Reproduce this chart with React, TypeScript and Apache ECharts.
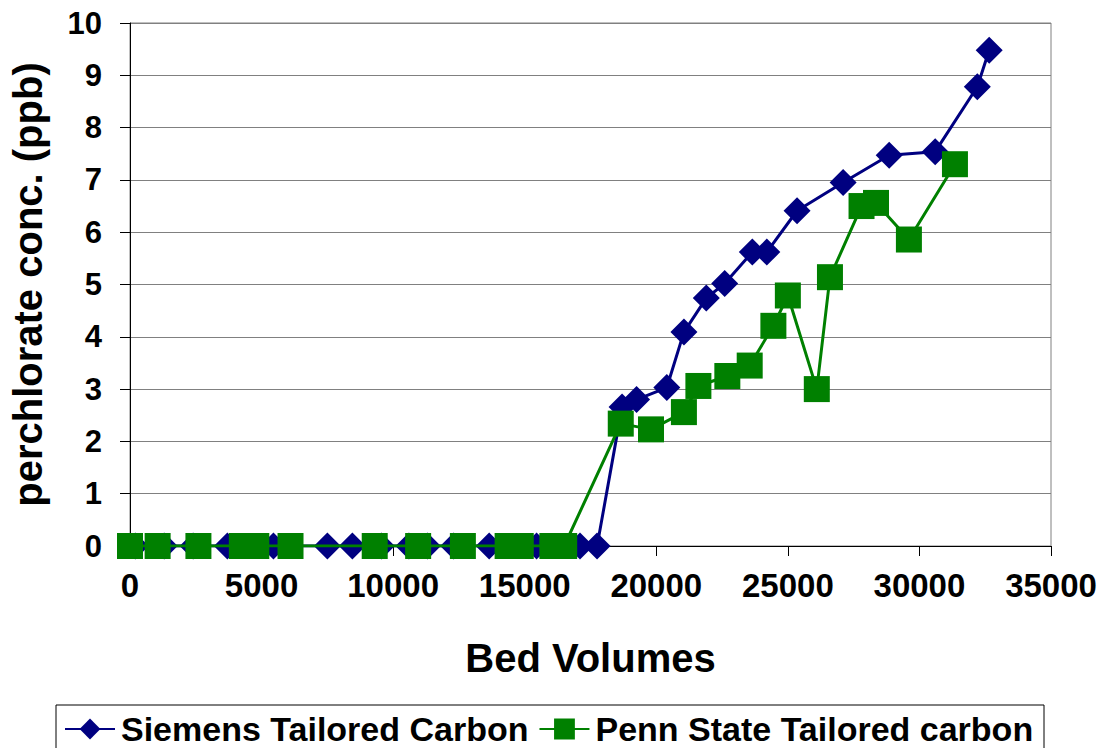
import React, { useEffect, useRef } from "react";
import * as echarts from "echarts";

const siemensBV = [200, 1300, 2400, 3700, 5450, 7500, 8450, 9550, 10600, 11300, 12300, 13650, 15450, 17100, 17750,
  18700, 19250, 20400, 21050, 21900, 22600, 23650, 24200, 25350, 27100, 28850, 30600, 32200, 32650];
const siemensConc = [0, 0, 0, 0, 0, 0, 0, 0, 0, 0, 0, 0, 0, 0, 0,
  2.66, 2.8, 3.03, 4.09, 4.74, 5.02, 5.62, 5.62, 6.41, 6.95, 7.47, 7.54, 8.78, 9.48];

const pennBV = [0, 1050, 2600, 4250, 4800, 6100, 9300, 10950, 12650, 14350, 14850, 16050, 16500,
  18650, 19800, 21050, 21600, 22700, 23550, 24450, 25000, 26100, 26600, 27800, 28350, 29600, 31350];
const pennConc = [0, 0, 0, 0, 0, 0, 0, 0, 0, 0, 0, 0, 0,
  2.34, 2.23, 2.56, 3.06, 3.25, 3.45, 4.21, 4.79, 3.0, 5.14, 6.5, 6.56, 5.86, 7.3];

const seriesNames = ["Siemens Tailored Carbon", "Penn State Tailored carbon"];
const xTitle = "Bed Volumes";
const yTitle = "perchlorate conc. (ppb)";

const FONT = "'Liberation Sans', Arial, sans-serif";

export default function App() {
  const ref = useRef<HTMLDivElement>(null);
  useEffect(() => {
    if (!ref.current) return;
    const chart = echarts.init(ref.current, null, { renderer: "svg" });
    const siemens = siemensBV.map((x, i) => [x, siemensConc[i]]);
    const penn = pennBV.map((x, i) => [x, pennConc[i]]);
    chart.setOption({
      animation: false,
      backgroundColor: "#ffffff",
      textStyle: { fontFamily: FONT },
      grid: {
        left: 129,
        right: 51,
        top: 23,
        bottom: 202,
        show: true,
        borderColor: "#808080",
        borderWidth: 1,
        backgroundColor: "transparent",
      },
      xAxis: {
        type: "value",
        min: 0,
        max: 35000,
        interval: 5000,
        name: xTitle,
        nameLocation: "middle",
        nameGap: 92,
        nameTextStyle: { fontSize: 40, fontWeight: "bold", color: "#000", fontFamily: FONT },
        axisLine: { show: true, onZero: false, lineStyle: { color: "#000", width: 1 } },
        axisTick: { show: true, length: 10, lineStyle: { color: "#000" } },
        axisLabel: {
          fontSize: 33,
          fontWeight: "bold",
          color: "#000",
          margin: 23,
          fontFamily: FONT,
          formatter: (v: number) => String(v),
        },
        splitLine: { show: false },
      },
      yAxis: {
        type: "value",
        min: 0,
        max: 10,
        interval: 1,
        name: yTitle,
        nameLocation: "middle",
        nameGap: 82,
        nameTextStyle: { fontSize: 40, fontWeight: "bold", color: "#000", fontFamily: FONT },
        axisLine: { show: true, lineStyle: { color: "#000", width: 1 } },
        axisTick: { show: true, length: 10, lineStyle: { color: "#000" } },
        axisLabel: { fontSize: 31, fontWeight: "bold", color: "#000", margin: 28, fontFamily: FONT },
        splitLine: { show: true, lineStyle: { color: "#808080", width: 1 } },
      },
      legend: {
        left: 59,
        top: 707,
        itemWidth: 50,
        itemHeight: 26,
        itemGap: 10,
        textStyle: { fontSize: 34, fontWeight: "bold", color: "#000", fontFamily: FONT, padding: [0, 0, 0, 1] },
        data: seriesNames,
      },
      graphic: [
        {
          type: "rect",
          shape: { x: 56, y: 705, width: 988, height: 70 },
          style: { fill: "none", stroke: "#000", lineWidth: 1 },
          silent: true,
        },
      ],
      series: [
        {
          name: seriesNames[0],
          type: "line",
          data: siemens,
          symbol: "diamond",
          symbolSize: 27,
          lineStyle: { color: "#000080", width: 3 },
          itemStyle: { color: "#000080" },
          z: 2,
        },
        {
          name: seriesNames[1],
          type: "line",
          data: penn,
          symbol: "rect",
          symbolSize: 26,
          lineStyle: { color: "#008000", width: 3 },
          itemStyle: { color: "#008000" },
          z: 3,
        },
      ],
    });
    return () => chart.dispose();
  }, []);
  return <div ref={ref} style={{ position: "fixed", left: 0, top: 0, width: 1102, height: 748 }} />;
}
